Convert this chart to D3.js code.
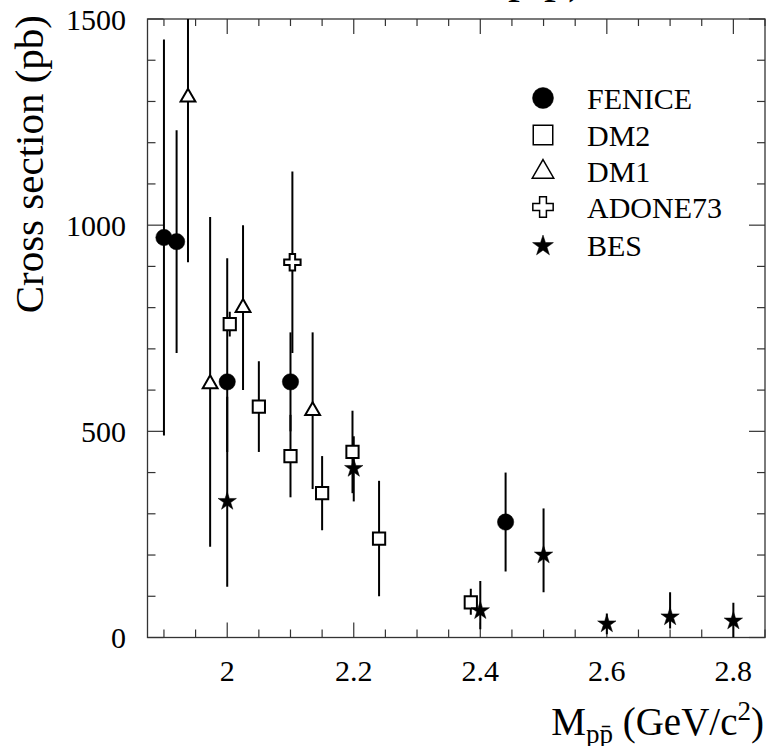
<!DOCTYPE html>
<html><head><meta charset="utf-8">
<script src="https://cdn.jsdelivr.net/npm/d3@7"></script>
<style>
html,body{margin:0;padding:0;background:#fff;}
</style></head>
<body><svg id="c" width="767" height="746" font-family="Liberation Serif, DejaVu Serif, serif"></svg>
<script>
// ---- data ----
const seriesNames = ["FENICE","DM2","DM1","ADONE73","BES"];

const feniceMass = [1.90, 1.92, 2.00, 2.10, 2.44];
const feniceSigma = [970, 960, 620, 620, 280];
const feniceErrHi = [480, 270, 300, 120, 120];
const feniceErrLo = [480, 270, 170, 120, 120];

const dm2Mass = [2.004, 2.05, 2.10, 2.15, 2.198, 2.24, 2.385];
const dm2Sigma = [760, 560, 440, 350, 450, 240, 85];
const dm2ErrHi = [30, 110, 100, 90, 100, 140, 33];
const dm2ErrLo = [30, 110, 100, 90, 100, 140, 30];

const dm1Mass = [1.938, 1.973, 2.025, 2.135];
const dm1Sigma = [1310, 615, 800, 550];
const dm1ErrHi = [400, 405, 200, 190];
const dm1ErrLo = [400, 395, 200, 190];

const adoneMass = [2.103];
const adoneSigma = [910];
const adoneErrHi = [220];
const adoneErrLo = [220];

const besMass = [2.0, 2.2, 2.4, 2.5, 2.6, 2.7, 2.8];
const besSigma = [330, 410, 65, 200, 33, 50, 40];
const besErrHi = [254, 78, 72, 113, 25, 60, 44];
const besErrLo = [207, 80, 45, 90, 25, 28, 40];

const xMinorTicks = d3.range(1.9, 2.851, 0.05).map(v => +v.toFixed(2));
const xMajorTicks = [2.0, 2.2, 2.4, 2.6, 2.8];
const xTickLabels = ["2", "2.2", "2.4", "2.6", "2.8"];
const yMinorTicks = d3.range(0, 1501, 100);
const yMajorTicks = [0, 500, 1000, 1500];
const yTickLabels = ["0", "500", "1000", "1500"];

// ---- layout ----
const FONT = "Liberation Serif, DejaVu Serif, serif";
const L = 147.5, R = 765, T = 19, B = 637.5;
const x = d3.scaleLinear().domain([1.874, 2.85]).range([L, R]);
const y = d3.scaleLinear().domain([0, 1500]).range([B, T]);

const svg = d3.select("#c");
svg.append("defs").append("clipPath").attr("id","clip")
  .append("rect").attr("x",L).attr("y",T).attr("width",R-L).attr("height",B-T);

function txt(sel){ return sel.append("text").attr("font-family",FONT).attr("fill","#000"); }

// clipped top title (only descenders visible)
txt(svg).attr("x",584).attr("y",-8).attr("text-anchor","end")
  .attr("font-size",48).text("e⁺e⁻ → p p̄)");

// frame & ticks
const axisCol = "#333";
const g = svg.append("g");
g.append("rect").attr("x",L).attr("y",T).attr("width",R-L).attr("height",B-T)
  .attr("fill","none").attr("stroke",axisCol).attr("stroke-width",1.3);

function isMajorX(v){ return xMajorTicks.some(m => Math.abs(m-v)<1e-6); }
function isMajorY(v){ return yMajorTicks.includes(v); }

xMinorTicks.forEach(v => {
  const len = isMajorX(v) ? 15 : 8;
  const len2 = isMajorX(v) ? 15 : 7;
  g.append("line").attr("x1",x(v)).attr("x2",x(v)).attr("y1",B).attr("y2",B-len)
    .attr("stroke",axisCol).attr("stroke-width",1.2);
  g.append("line").attr("x1",x(v)).attr("x2",x(v)).attr("y1",T).attr("y2",T+len2)
    .attr("stroke",axisCol).attr("stroke-width",1.2);
});
yMinorTicks.forEach(v => {
  const len = isMajorY(v) ? 16 : 8;
  g.append("line").attr("x1",L).attr("x2",L+len).attr("y1",y(v)).attr("y2",y(v))
    .attr("stroke",axisCol).attr("stroke-width",1.2);
  g.append("line").attr("x1",R).attr("x2",R-len).attr("y1",y(v)).attr("y2",y(v))
    .attr("stroke",axisCol).attr("stroke-width",1.2);
});

// tick labels
xMajorTicks.forEach((v,i) => {
  txt(svg).attr("x",x(v)).attr("y",681).attr("text-anchor","middle")
    .attr("font-size",30).text(xTickLabels[i]);
});
yMajorTicks.forEach((v,i) => {
  txt(svg).attr("x",126).attr("y",y(v)).attr("dy","0.35em")
    .attr("text-anchor","end").attr("font-size",30).text(yTickLabels[i]);
});

// axis titles
txt(svg).attr("transform","translate(43,15) rotate(-90)")
  .attr("text-anchor","end").attr("font-size",41).text("Cross section (pb)");
const xt = txt(svg).attr("x",764).attr("y",735).attr("text-anchor","end")
  .attr("font-size",39);
xt.append("tspan").text("M");
xt.append("tspan").attr("font-size",27).attr("dy",8).text("pp̄");
xt.append("tspan").attr("dy",-8).text(" (GeV/c");
xt.append("tspan").attr("font-size",27).attr("dy",-15).text("2");
xt.append("tspan").attr("dy",15).text(")");

// ---- data marks ----
const plot = svg.append("g").attr("clip-path","url(#clip)");
const series = [
  {name:"FENICE", m:feniceMass, s:feniceSigma, hi:feniceErrHi, lo:feniceErrLo, type:d3.symbolCircle, size:210, fill:"#000"},
  {name:"DM2", m:dm2Mass, s:dm2Sigma, hi:dm2ErrHi, lo:dm2ErrLo, type:d3.symbolSquare, size:150, fill:"#fff"},
  {name:"DM1", m:dm1Mass, s:dm1Sigma, hi:dm1ErrHi, lo:dm1ErrLo, type:d3.symbolTriangle, size:95, fill:"#fff"},
  {name:"ADONE73", m:adoneMass, s:adoneSigma, hi:adoneErrHi, lo:adoneErrLo, type:d3.symbolCross, size:150, fill:"#fff"},
  {name:"BES", m:besMass, s:besSigma, hi:besErrHi, lo:besErrLo, type:d3.symbolStar, size:105, fill:"#000"}
];
const legendSize = [346, 380, 200, 230, 135];

series.forEach(sr => {
  sr.m.forEach((mv,i) => {
    plot.append("line").attr("x1",x(mv)).attr("x2",x(mv))
      .attr("y1",y(sr.s[i]+sr.hi[i])).attr("y2",y(sr.s[i]-sr.lo[i]))
      .attr("stroke","#000").attr("stroke-width",2);
  });
});
series.forEach(sr => {
  sr.m.forEach((mv,i) => {
    plot.append("path").attr("d",d3.symbol().type(sr.type).size(sr.size)())
      .attr("transform",`translate(${x(mv)},${y(sr.s[i])})`)
      .attr("fill",sr.fill).attr("stroke","#000")
      .attr("stroke-width", sr.fill==="#000" ? 0.5 : 2);
  });
});

// ---- legend ----
const legY = [98, 135, 172, 207, 246];
const legTextY = [109, 146, 182, 218, 256];
series.forEach((sr,i) => {
  svg.append("path").attr("d",d3.symbol().type(sr.type).size(legendSize[i])())
    .attr("transform",`translate(543,${legY[i]})`)
    .attr("fill",sr.fill).attr("stroke","#000")
    .attr("stroke-width", sr.fill==="#000" ? 0.5 : 1.5);
  txt(svg).attr("x",587).attr("y",legTextY[i]).attr("font-size",30)
    .text(seriesNames[i]);
});
</script></body></html>
